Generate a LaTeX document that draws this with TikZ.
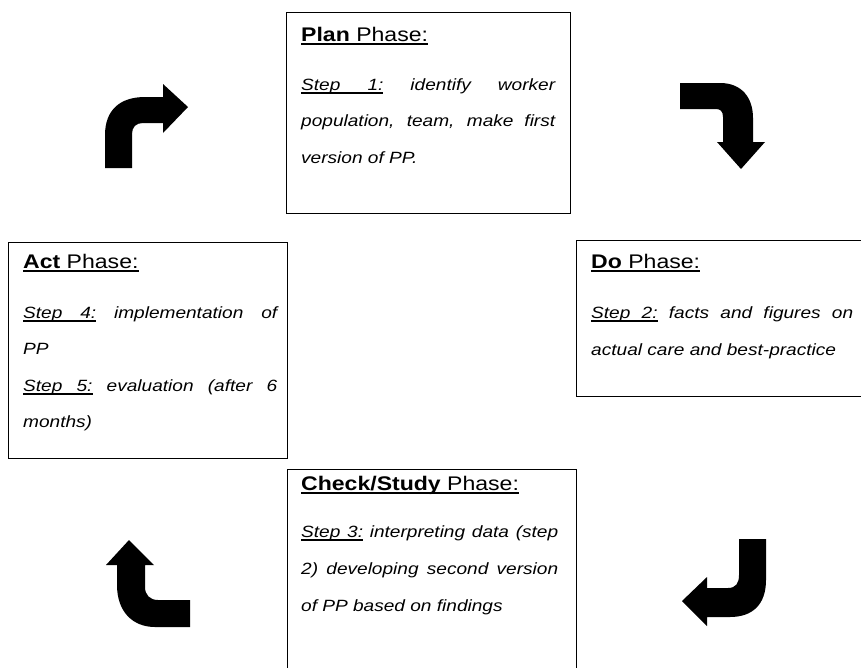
\documentclass[tikz,border=0pt]{standalone}
\usepackage{fontspec}
\setmainfont[FakeStretch=1.17]{Liberation Sans}
\newcommand{\ttlfont}{\fontsize{19.7}{24}\selectfont}
\newcommand{\bdyfont}{\fontsize{16.3}{20}\selectfont\itshape}
\newcommand{\jline}[2]{\makebox[#1][s]{#2}}
% underlined word and underlined stretchable space
\newcommand{\ulw}[1]{\setbox0\hbox{#1}\rlap{\rule[-3.6pt]{\wd0}{1.4pt}}\box0\relax}
\newcommand{\ulsp}{\leaders\hrule height -2.2pt depth 3.6pt\hskip\fontdimen2\font plus \fontdimen3\font minus \fontdimen4\font\relax}
\begin{document}
\begin{tikzpicture}[x=1pt,y=-1pt,
  phasebox/.style={draw=black, line width=1.4pt, inner sep=0pt, anchor=north west},
  ttl/.style={anchor=base west, inner sep=0pt, font=\ttlfont},
  txt/.style={anchor=base west, inner sep=0pt, font=\bdyfont},
  bigarrow/.style={fill=black, draw=none}]
\useasboundingbox (0,0) rectangle (861,667);
\clip (0,0) rectangle (861,667);

% boxes
\node[phasebox, minimum width=284, minimum height=201] (plan) at (286,12) {};
\node[phasebox, minimum width=279, minimum height=216] (act) at (8,242) {};
\node[phasebox, minimum width=300, minimum height=156] (do) at (576,240) {};
\node[phasebox, minimum width=289, minimum height=220] (check) at (287,469) {};

% Plan
\node[ttl] (plan-t) at (301,41) {\ulw{\textbf{Plan}}\ulsp\ulw{Phase:}};
\node[txt] (plan-1) at (301,90) {\jline{254pt}{\ulw{Step}\ulsp\ulw{1:} identify worker}};
\node[txt] (plan-2) at (301,126.5) {\jline{254pt}{population, team, make first}};
\node[txt] (plan-3) at (301,163) {version of PP.};

% Act
\node[ttl] (act-t) at (23,268) {\ulw{\textbf{Act}}\ulsp\ulw{Phase:}};
\node[txt] (act-1) at (23,318) {\jline{254pt}{\ulw{Step}\ulsp\ulw{4:} implementation of}};
\node[txt] (act-2) at (23,354.5) {PP};
\node[txt] (act-3) at (23,391) {\jline{254pt}{\ulw{Step}\ulsp\ulw{5:} evaluation (after 6}};
\node[txt] (act-4) at (23,427.5) {months)};

% Do
\node[ttl] (do-t) at (591,268) {\ulw{\textbf{Do}}\ulsp\ulw{Phase:}};
\node[txt] (do-1) at (591,318) {\jline{262pt}{\ulw{Step}\ulsp\ulw{2:} facts and figures on}};
\node[txt] (do-2) at (591,355) {actual care and best-practice};

% Check
\node[ttl] (check-t) at (301,490) {\ulw{\textbf{Check/Study}}\ulsp\ulw{Phase:}};
\node[txt] (check-1) at (301,537) {\jline{257pt}{\ulw{Step}\ulsp\ulw{3:} interpreting data (step}};
\node[txt] (check-2) at (301,574) {\jline{257pt}{2) developing second version}};
\node[txt] (check-3) at (301,611) {of PP based on findings};

% arrows
\fill[bigarrow] (105,168) -- (105,135) .. controls (105,110) and (120,97) .. (145,97)
  -- (163,97) -- (163,84) -- (188,107) -- (163,133) -- (163,123) -- (143,123)
  .. controls (136,123) and (132,127) .. (132,134) -- (132,168) -- cycle;
\fill[bigarrow] (680,83) -- (720,83) .. controls (742,83) and (753,98) .. (753,118)
  -- (753,142) -- (765,142) -- (741,169) -- (717,142) -- (723,142) -- (723,117)
  .. controls (723,111) and (720,109) .. (716,109) -- (680,109) -- cycle;
\fill[bigarrow] (190,600) -- (158,600) .. controls (150,600) and (145,595) .. (145,587)
  -- (145,565) -- (154,565) -- (129,540) -- (106,565) -- (117,565) -- (117,585)
  .. controls (117,612) and (133,627) .. (155,627) -- (190,627) -- cycle;
\fill[bigarrow] (739,539) -- (766,539) -- (766,580) .. controls (766,605) and (752,617) .. (730,617)
  -- (707,617) -- (707,626) -- (682,601) -- (707,577) -- (707,588) -- (728,588)
  .. controls (736,588) and (739,583) .. (739,575) -- cycle;
\end{tikzpicture}
\end{document}
